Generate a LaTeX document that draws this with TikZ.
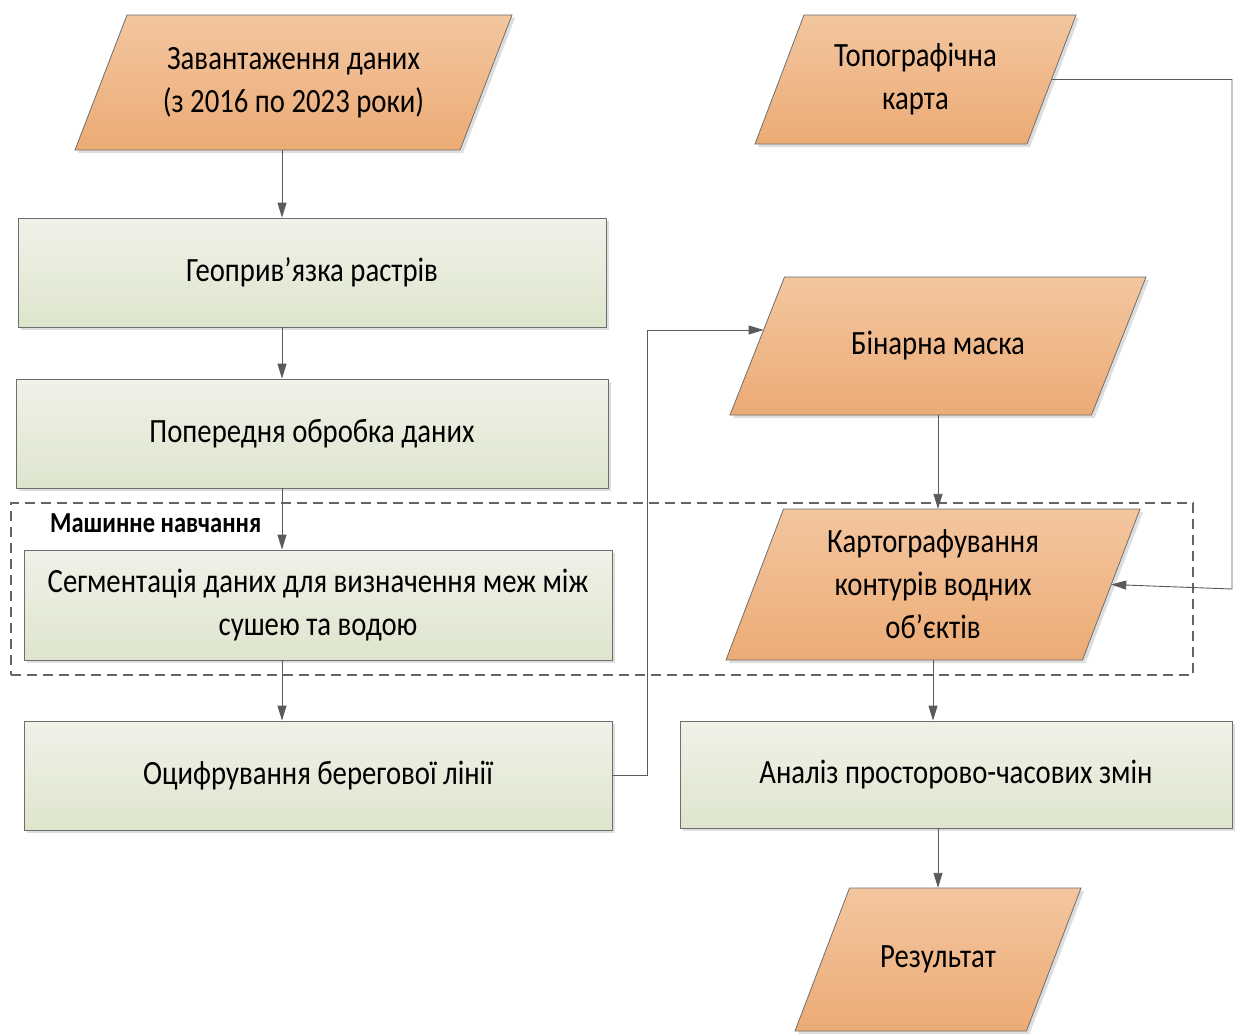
\documentclass[tikz,border=0pt]{standalone}
\usepackage{fontspec}
\setmainfont{Carlito}[FakeStretch=0.845]
\usetikzlibrary{shadows,arrows.meta,calc}

\definecolor{orTop}{HTML}{F3C6A0}
\definecolor{orBot}{HTML}{ECAB75}
\definecolor{grTop}{HTML}{EFF2E8}
\definecolor{grBot}{HTML}{DEE5CD}
\definecolor{edgegray}{HTML}{6E6E6E}
\definecolor{wire}{HTML}{5A5A5A}

% parallelogram data block: name, centre x, centre y, full width, height, slant, text
\newcommand\iodata[7]{%
  \coordinate (#1-bl) at ({#2-#4/2},{#3+#5/2});
  \coordinate (#1-br) at ({#2+#4/2-#6},{#3+#5/2});
  \coordinate (#1-tr) at ({#2+#4/2},{#3-#5/2});
  \coordinate (#1-tl) at ({#2-#4/2+#6},{#3-#5/2});
  \path[iofill] (#1-bl) -- (#1-br) -- (#1-tr) -- (#1-tl) -- cycle;
  \node[iotext,minimum width={#4-#6},minimum height=#5] (#1) at (#2,#3) {#7};
}

\begin{document}
\begin{tikzpicture}[x=1pt,y=-1pt,
  boxshadow/.style={drop shadow={shadow xshift=3pt,shadow yshift=-3pt,fill=black,opacity=0.13}},
  blocktext/.style={inner sep=0pt,align=center,font=\fontsize{34}{43}\selectfont},
  procbox/.style={rectangle,draw=edgegray,line width=0.8pt,top color=grTop,bottom color=grBot,
    blocktext,boxshadow},
  iofill/.style={draw=edgegray,line width=0.8pt,top color=orTop,bottom color=orBot,boxshadow},
  iotext/.style={rectangle,draw=none,blocktext},
  flow/.style={draw=wire,line width=0.9pt,-{Triangle[length=15pt,width=9pt]}},
  zone/.style={draw=black!60,line width=1.1pt,dash pattern=on 10pt off 6pt}
]
\useasboundingbox (0,0) rectangle (1238,1033);

% machine-learning zone
\node[zone,minimum width=1182pt,minimum height=172pt,inner sep=0pt] (mlzone) at (602,589) {};
\node[anchor=west,inner sep=0pt,font=\bfseries\fontsize{29}{34}\selectfont] (mllabel) at (50,523) {Машинне навчання};

% input / output blocks
\iodata{load}{293.5}{82.5}{437}{135}{52}{Завантаження даних\\(з 2016 по 2023 роки)}
\iodata{topo}{915.5}{79.5}{321}{129}{49}{Топографічна\\карта}
\iodata{mask}{938}{346}{416}{138}{54.5}{Бінарна маска}
\iodata{map}{933}{584.5}{414}{151}{57.5}{Картографування\\контурів водних\\об’єктів}
\iodata{result}{938}{959.5}{286}{143}{54.5}{Результат}

% processing blocks
\node[procbox,minimum width=588pt,minimum height=109pt] (geo) at (312,272.5) {Геоприв’язка растрів};
\node[procbox,minimum width=592pt,minimum height=109pt] (prep) at (312,433.5) {Попередня обробка даних};
\node[procbox,minimum width=588pt,minimum height=110pt] (seg) at (318,605) {Сегментація даних для визначення меж між\\сушею та водою};
\node[procbox,minimum width=588pt,minimum height=109pt] (digit) at (318,775.5) {Оцифрування берегової лінії};
\node[procbox,minimum width=552pt,minimum height=107pt] (anal) at (956,774.5) {Аналіз просторово-часових змін};

% connectors
\coordinate (spine) at (282,0);
\draw[flow] (load.south -| spine) -- (geo.north -| spine);
\draw[flow] (geo.south -| spine) -- (prep.north -| spine);
\draw[flow] (prep.south -| spine) -- (seg.north -| spine);
\draw[flow] (seg.south -| spine) -- (digit.north -| spine);
\draw[flow] (digit.east) -- ++(35,0) |- ($(mask-tl)!0.384!(mask-bl)$);
\draw[flow] (mask.south) -- (mask.south |- map.north);
\draw[flow] (map.south) -- (map.south |- anal.north);
\draw[flow] (anal.south -| result.north) -- (result.north);
\coordinate (turn) at (1232,589);
\draw[flow] ($(topo-br)!0.5!(topo-tr)$) -| (turn) -- ($(map-br)!0.5!(map-tr)$);
\end{tikzpicture}
\end{document}
